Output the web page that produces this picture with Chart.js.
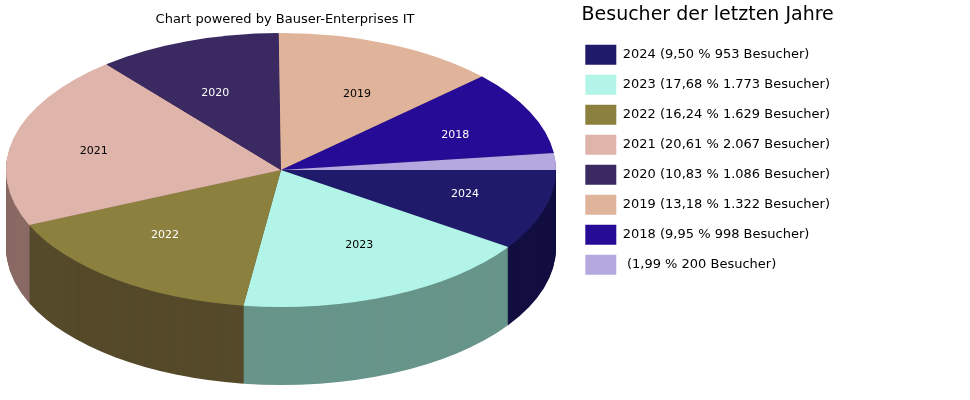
<!DOCTYPE html>
<html>
<head>
<meta charset="utf-8">
<script src="https://cdn.jsdelivr.net/npm/chart.js@4"></script>
<style>
  body { margin: 0; background: #fff; }
  #wrap { width: 970px; height: 400px; }
</style>
</head>
<body>
<div id="wrap"><canvas id="chart"></canvas></div>
<script>
// data
const years = ['2024', '2023', '2022', '2021', '2020', '2019', '2018', ''];
const visitors = [953, 1773, 1629, 2067, 1086, 1322, 998, 200];
const percents = ['9,50', '17,68', '16,24', '20,61', '10,83', '13,18', '9,95', '1,99'];
const visitorText = ['953', '1.773', '1.629', '2.067', '1.086', '1.322', '998', '200'];
const colors = ['#201a6b', '#b2f5e8', '#8c803f', '#dfb4aa', '#3b2a62', '#e0b49b', '#260b96', '#b4a8de'];
const sideColors = ['#120e40', '#68958a', '#554a2a', '#8a6a65', '#241a3c', '#8a6e5e', '#160758', '#6e6788'];
const labelColors = ['#fff', '#000', '#fff', '#000', '#fff', '#000', '#fff', '#000'];

// pie geometry on screen
const CX = 281, CY = 170, RX = 275, RY = 137, DEPTH = 78;

function slicePath(ctx, a0, a1, dy) {
  ctx.beginPath();
  ctx.moveTo(CX, CY + dy);
  ctx.ellipse(CX, CY + dy, RX, RY, 0, a0, a1);
  ctx.closePath();
}

const pie3d = {
  id: 'pie3d',
  beforeDatasetsDraw(chart) {
    const ctx = chart.ctx;
    const arcs = chart.getDatasetMeta(0).data;
    ctx.save();
    for (let d = DEPTH; d >= 1; d--) {
      arcs.forEach((a, i) => {
        ctx.fillStyle = sideColors[i];
        slicePath(ctx, a.startAngle, a.endAngle, d);
        ctx.fill();
      });
    }
    arcs.forEach((a, i) => {
      ctx.fillStyle = colors[i];
      slicePath(ctx, a.startAngle, a.endAngle, 0);
      ctx.fill();
    });
    ctx.font = '11px Verdana, "DejaVu Sans", sans-serif';
    ctx.textAlign = 'center';
    ctx.textBaseline = 'middle';
    arcs.forEach((a, i) => {
      if (!years[i]) return;
      const m = (a.startAngle + a.endAngle) / 2;
      ctx.fillStyle = labelColors[i];
      ctx.fillText(years[i], CX + Math.cos(m) * RX * 0.7, CY + Math.sin(m) * RY * 0.6);
    });
    ctx.fillStyle = '#000';
    ctx.font = '13px Verdana, "DejaVu Sans", sans-serif';
    ctx.fillText('Chart powered by Bauser-Enterprises IT', 285, 20);
    ctx.restore();
    return false;
  }
};

new Chart(document.getElementById('chart'), {
  type: 'pie',
  data: {
    labels: years,
    datasets: [{ data: visitors, backgroundColor: colors, borderWidth: 0 }]
  },
  options: {
    responsive: true,
    maintainAspectRatio: false,
    animation: false,
    rotation: 90,
    layout: { padding: { right: 130 } },
    plugins: {
      tooltip: { enabled: false },
      legend: {
        position: 'right',
        align: 'start',
        title: {
          display: true,
          text: 'Besucher der letzten Jahre',
          color: '#000',
          font: { family: 'Verdana, "DejaVu Sans", sans-serif', size: 19 },
          padding: { top: 6, bottom: 6 }
        },
        labels: {
          boxWidth: 31,
          boxHeight: 20,
          padding: 10,
          color: '#000',
          font: { family: 'Verdana, "DejaVu Sans", sans-serif', size: 13 },
          generateLabels: () => years.map((y, i) => ({
            text: y + ' (' + percents[i] + ' % ' + visitorText[i] + ' Besucher)',
            fillStyle: colors[i],
            strokeStyle: colors[i],
            lineWidth: 0,
            index: i
          }))
        }
      }
    }
  },
  plugins: [pie3d]
});
</script>
</body>
</html>
